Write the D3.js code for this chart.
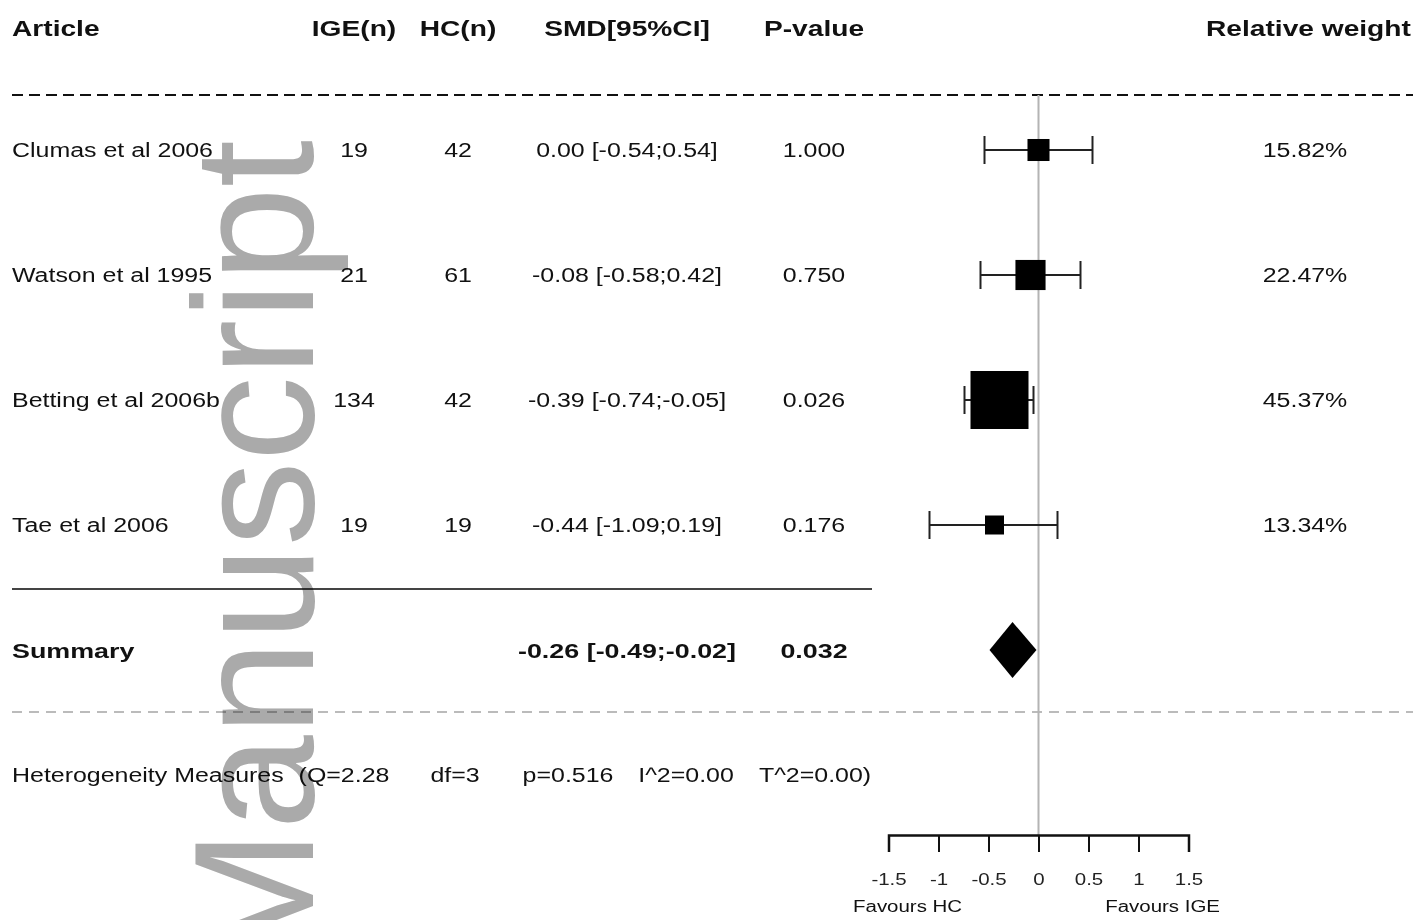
<!DOCTYPE html>
<html>
<head>
<meta charset="utf-8">
<script src="https://cdn.jsdelivr.net/npm/d3@7"></script>
<style>
  html, body { margin: 0; padding: 0; background: #fff; }
  svg { display: block; }
  text { font-family: "Liberation Sans", Arial, Helvetica, sans-serif; fill: #111; }
</style>
</head>
<body>
<svg id="chart" width="1413" height="920"></svg>
<script>
// ---- data ----
const articles   = ["Clumas et al 2006", "Watson et al 1995", "Betting et al 2006b", "Tae et al 2006"];
const igeN       = [19, 21, 134, 19];
const hcN        = [42, 61, 42, 19];
const smd        = [0.00, -0.08, -0.39, -0.44];
const ciLow      = [-0.54, -0.58, -0.74, -1.09];
const ciHigh     = [0.54, 0.42, -0.05, 0.19];
const pValues    = [1.000, 0.750, 0.026, 0.176];
const weights    = [15.82, 22.47, 45.37, 13.34];

const summarySmd = -0.26;
const summaryLow = -0.49;
const summaryHigh = -0.02;
const summaryP   = 0.032;

const heteroLabel = "Heterogeneity Measures";
const heteroStats = ["(Q=2.28", "df=3", "p=0.516", "I^2=0.00", "T^2=0.00)"];

const headers    = ["Article", "IGE(n)", "HC(n)", "SMD[95%CI]", "P-value", "Relative weight"];
const axisTicks  = [-1.5, -1, -0.5, 0, 0.5, 1, 1.5];
const favourLabels = ["Favours HC", "Favours IGE"];
const watermark  = "Manuscript";

// ---- layout ----
const W = 1413, H = 920;
const SX = 1.28;               // horizontal stretch of all table text
const svg = d3.select("#chart");

const rowKeys = [...articles, "Summary", "Heterogeneity"];
const y = d3.scalePoint().domain(rowKeys).range([150, 775]);
const x = d3.scaleLinear().domain([-1.5, 1.5]).range([888.5, 1188.5]);
const side = d3.scaleLinear().domain([d3.min(weights), d3.max(weights)]).range([19, 58]);

const col = { article: 12, ige: 354, hc: 458, smd: 627, p: 814, weight: 1305 };
const locale = d3.formatLocale({ decimal: ".", thousands: ",", grouping: [3], currency: ["", ""], minus: "-" });
const f2 = locale.format(".2f"), f3 = locale.format(".3f");
const ciText = (m, lo, hi) => `${f2(m)} [${f2(lo)};${f2(hi)}]`;

function label(g, px, py, str, opt = {}) {
  return g.append("text")
    .attr("transform", `translate(${px},${py}) scale(${SX},1)`)
    .attr("text-anchor", opt.anchor || "middle")
    .style("font-size", (opt.size || 19.5) + "px")
    .style("font-weight", opt.bold ? "bold" : "normal")
    .text(str);
}

const table = svg.append("g");

// header row
const headerX = [col.article, col.ige, col.hc, col.smd, col.p, 1206];
headers.forEach((h, i) => {
  label(table, headerX[i], 36, h, { bold: true, size: 22, anchor: (i === 0 || i === 5) ? "start" : "middle" });
});

// separators
table.append("line").attr("x1", 12).attr("x2", W).attr("y1", 95).attr("y2", 95)
  .attr("stroke", "#111").attr("stroke-width", 2).attr("stroke-dasharray", "11,6");
table.append("line").attr("x1", 12).attr("x2", 872).attr("y1", 589).attr("y2", 589)
  .attr("stroke", "#444").attr("stroke-width", 2);
table.append("line").attr("x1", 12).attr("x2", W).attr("y1", 712).attr("y2", 712)
  .attr("stroke", "#bbb").attr("stroke-width", 2).attr("stroke-dasharray", "10,7");

// study rows
articles.forEach((a, i) => {
  const yy = y(a) + 7;
  label(table, col.article, yy, a, { anchor: "start" });
  label(table, col.ige, yy, igeN[i]);
  label(table, col.hc, yy, hcN[i]);
  label(table, col.smd, yy, ciText(smd[i], ciLow[i], ciHigh[i]));
  label(table, col.p, yy, f3(pValues[i]));
  label(table, col.weight, yy, f2(weights[i]) + "%");
});

// summary row
const ys = y("Summary") + 8;
label(table, col.article, ys, "Summary", { anchor: "start", bold: true, size: 21 });
label(table, col.smd, ys, ciText(summarySmd, summaryLow, summaryHigh), { bold: true, size: 21 });
label(table, col.p, ys, f3(summaryP), { bold: true, size: 21 });

// heterogeneity row
const yh = y("Heterogeneity") + 7;
label(table, col.article, yh, heteroLabel, { anchor: "start" });
const heteroX = [344, 455, 568, 686, 815];
heteroStats.forEach((s, i) => label(table, heteroX[i], yh, s));

// ---- forest plot ----
const plot = svg.append("g");
const axisY = 835;

plot.append("line").attr("x1", x(0)).attr("x2", x(0)).attr("y1", 95).attr("y2", axisY)
  .attr("stroke", "#b4b4b4").attr("stroke-width", 2);

const studies = articles.map((a, i) => ({ a, m: smd[i], lo: ciLow[i], hi: ciHigh[i], w: weights[i] }));
const rows = plot.selectAll("g.study").data(studies).join("g").attr("class", "study");
rows.append("line")
  .attr("x1", d => x(d.lo)).attr("x2", d => x(d.hi))
  .attr("y1", d => y(d.a)).attr("y2", d => y(d.a))
  .attr("stroke", "#222").attr("stroke-width", 2);
[d => x(d.lo), d => x(d.hi)].forEach(fx => {
  rows.append("line")
    .attr("x1", fx).attr("x2", fx)
    .attr("y1", d => y(d.a) - 14).attr("y2", d => y(d.a) + 14)
    .attr("stroke", "#222").attr("stroke-width", 2);
});
rows.append("rect")
  .attr("x", d => x(d.m) - side(d.w) / 2).attr("y", d => y(d.a) - side(d.w) / 2)
  .attr("width", d => side(d.w)).attr("height", d => side(d.w))
  .attr("fill", "#000");

// summary diamond
const yd = y("Summary"), hd = 28;
plot.append("path")
  .attr("d", `M${x(summaryLow)},${yd} L${x(summarySmd)},${yd - hd} L${x(summaryHigh)},${yd} L${x(summarySmd)},${yd + hd} Z`)
  .attr("fill", "#000");

// axis
const axis = d3.axisBottom(x).tickValues(axisTicks).tickSize(17).tickSizeOuter(17)
  .tickPadding(22).tickFormat(d => String(d));
const ag = plot.append("g").attr("transform", `translate(0,${axisY})`).call(axis);
ag.select(".domain").attr("stroke", "#111").attr("stroke-width", 2.5);
ag.selectAll(".tick line").attr("stroke", "#111").attr("stroke-width", 2);
ag.selectAll(".tick text")
  .attr("transform", `scale(${SX},1)`)
  .style("font-size", "16px").style("fill", "#222")
  .style("font-family", "'Liberation Sans', Arial, sans-serif");

label(plot, 853, 912, favourLabels[0], { anchor: "start", size: 16 });
label(plot, 1220, 912, favourLabels[1], { anchor: "end", size: 16 });

// ---- watermark ----
svg.append("text")
  .attr("transform", "translate(313,140) rotate(-90)")
  .attr("text-anchor", "end")
  .style("font-size", "170px")
  .style("fill", "#aaaaaa")
  .style("mix-blend-mode", "multiply")
  .text(watermark);
</script>
</body>
</html>
